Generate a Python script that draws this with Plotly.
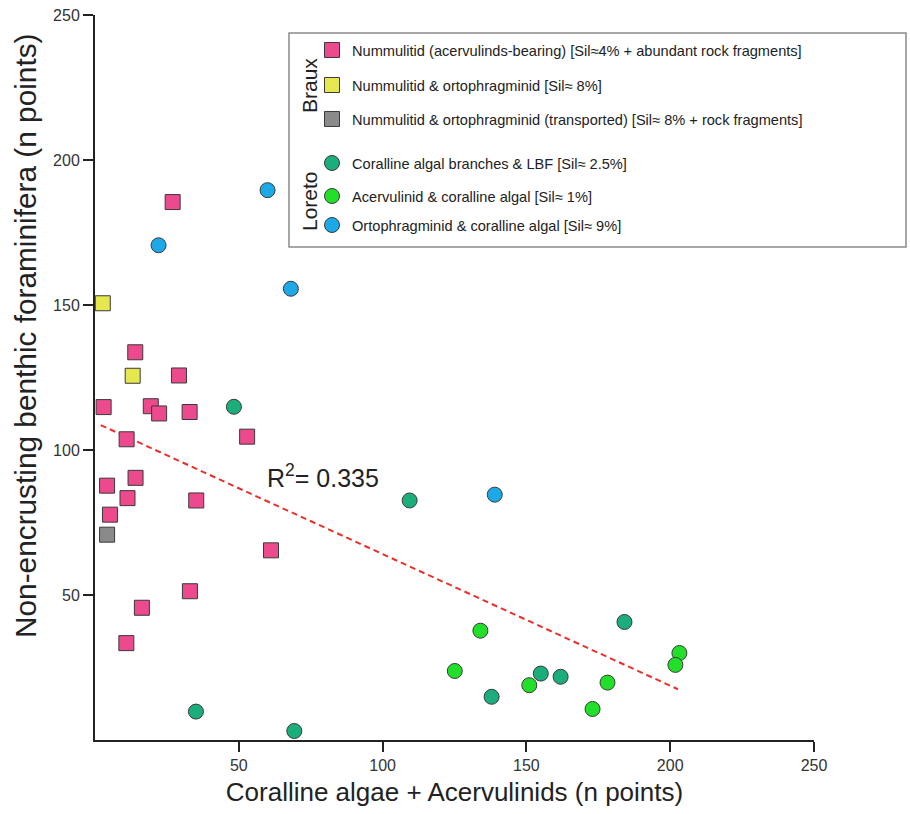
import plotly.graph_objects as go

# ---------------- data ----------------
pink_x = [27.0, 14.0, 29.2, 3.0, 19.4, 22.3, 32.9, 11.0, 52.9, 14.1, 4.2, 11.3, 35.2, 5.2, 61.2, 33.0, 16.3, 10.9]
pink_y = [185.5, 133.7, 125.7, 114.8, 115.1, 112.6, 113.1, 103.7, 104.6, 90.4, 87.7, 83.4, 82.6, 77.7, 65.4, 51.3, 45.6, 33.4]

yellow_x = [2.7, 13.1]
yellow_y = [150.6, 125.6]

gray_x = [4.2]
gray_y = [70.8]

dkgreen_x = [48.3, 35.1, 69.3, 109.4, 184.1, 155.0, 161.9, 137.9]
dkgreen_y = [114.9, 9.8, 3.1, 82.6, 40.7, 22.9, 21.8, 14.9]

ltgreen_x = [134.0, 125.1, 151.0, 178.2, 173.0, 203.2, 201.8]
ltgreen_y = [37.7, 23.8, 18.9, 19.8, 10.7, 30.0, 25.9]

blue_x = [60.0, 22.1, 68.1, 139.0]
blue_y = [189.6, 170.6, 155.6, 84.6]

trend_x = [2.0, 202.7]
trend_y = [108.6, 17.5]

tick_vals = [50, 100, 150, 200, 250]

names = [
    "Nummulitid (acervulinds-bearing) [Sil≈4% + abundant rock fragments]",
    "Nummulitid & ortophragminid [Sil≈ 8%]",
    "Nummulitid & ortophragminid (transported) [Sil≈ 8% + rock fragments]",
    "Coralline algal branches & LBF [Sil≈ 2.5%]",
    "Acervulinid & coralline algal [Sil≈ 1%]",
    "Ortophragminid & coralline algal [Sil≈ 9%]",
]

FONT = "Liberation Sans, Arial, sans-serif"
W, H = 910, 814
L, R, T, B = 95, 96, 15, 74
PW, PH = W - L - R, H - T - B


def px2paper_x(px):
    return (px - L) / PW


def px2paper_y(py):
    return (H - B - py) / PH


series = [
    (pink_x, pink_y, "#EC4A8C", "square"),
    (yellow_x, yellow_y, "#E6E64E", "square"),
    (gray_x, gray_y, "#8A8A8A", "square"),
    (dkgreen_x, dkgreen_y, "#1BAE7A", "circle"),
    (ltgreen_x, ltgreen_y, "#22E02A", "circle"),
    (blue_x, blue_y, "#1DA9E8", "circle"),
]

fig = go.Figure()

# trend line (drawn below markers)
fig.add_trace(go.Scatter(
    x=trend_x, y=trend_y, mode="lines",
    line=dict(color="#E8312B", width=2, dash="6px,4px"),
    showlegend=False, hoverinfo="skip",
))

legend_rows_y = [50, 85, 119, 163, 196, 225]
for i, ((xs, ys, col, sym), nm) in enumerate(zip(series, names)):
    lname = "legend" if i == 0 else f"legend{i + 1}"
    fig.add_trace(go.Scatter(
        x=xs, y=ys, mode="markers", name=nm,
        marker=dict(symbol=sym, size=15, color=col,
                    line=dict(color="#3a3a3a", width=1)),
        legend=lname,
    ))

legend_layouts = {}
for i, ry in enumerate(legend_rows_y):
    lname = "legend" if i == 0 else f"legend{i + 1}"
    legend_layouts[lname] = dict(
        x=px2paper_x(312), xanchor="left",
        y=px2paper_y(ry), yanchor="middle",
        bgcolor="rgba(0,0,0,0)", borderwidth=0,
        font=dict(family=FONT, size=14.6, color="#222222"),
    )

fig.update_layout(
    width=W, height=H,
    margin=dict(l=L, r=R, t=T, b=B, autoexpand=False),
    paper_bgcolor="white", plot_bgcolor="white",
    font=dict(family=FONT, color="#222222"),
    showlegend=True,
    **legend_layouts,
)

fig.update_xaxes(
    range=[0, 250], tickvals=tick_vals, ticktext=[str(v) for v in tick_vals],
    showgrid=False, zeroline=False, showline=True, linecolor="#222222", linewidth=2,
    ticks="outside", ticklen=10, tickwidth=1.5, tickcolor="#222222",
    tickfont=dict(family=FONT, size=16, color="#333333"),
    title=dict(text="Coralline algae + Acervulinids (n points)",
               font=dict(family=FONT, size=26, color="#222222"), standoff=10),
    automargin=False,
)
fig.update_yaxes(
    range=[0, 250], tickvals=tick_vals, ticktext=[str(v) for v in tick_vals],
    showgrid=False, zeroline=False, showline=True, linecolor="#222222", linewidth=2,
    ticks="outside", ticklen=10, tickwidth=1.5, tickcolor="#222222",
    tickfont=dict(family=FONT, size=16, color="#333333"),
    automargin=False,
)

# y-axis title (placed as in the reference, slightly above the axis centre)
fig.add_annotation(text="Non-encrusting benthic foraminifera (n points)",
                   xref="paper", yref="paper",
                   x=px2paper_x(25), y=px2paper_y(336), textangle=-90,
                   xanchor="center", yanchor="middle", showarrow=False,
                   font=dict(family=FONT, size=29.8, color="#222222"))

# legend frame
fig.add_shape(type="rect", xref="paper", yref="paper",
              x0=px2paper_x(289), x1=px2paper_x(906),
              y0=px2paper_y(247), y1=px2paper_y(33),
              line=dict(color="#8a8a8a", width=1.5), fillcolor="rgba(0,0,0,0)",
              layer="below")

# group labels
fig.add_annotation(text="Braux", xref="paper", yref="paper",
                   x=px2paper_x(309), y=px2paper_y(86), textangle=-90,
                   xanchor="center", yanchor="middle",
                   showarrow=False, font=dict(family=FONT, size=21, color="#222222"))
fig.add_annotation(text="Loreto", xref="paper", yref="paper",
                   x=px2paper_x(309), y=px2paper_y(201), textangle=-90,
                   xanchor="center", yanchor="middle",
                   showarrow=False, font=dict(family=FONT, size=21, color="#222222"))

# R^2 label
fig.add_annotation(text="R<sup>2</sup>= 0.335", x=59, y=91, xref="x", yref="y",
                   xanchor="left", yanchor="middle", showarrow=False,
                   font=dict(family=FONT, size=25, color="#222222"))

fig.write_html("out.html",
               config={"displayModeBar": False},
               post_script="document.body.style.margin='0';document.body.style.overflow='hidden';")
